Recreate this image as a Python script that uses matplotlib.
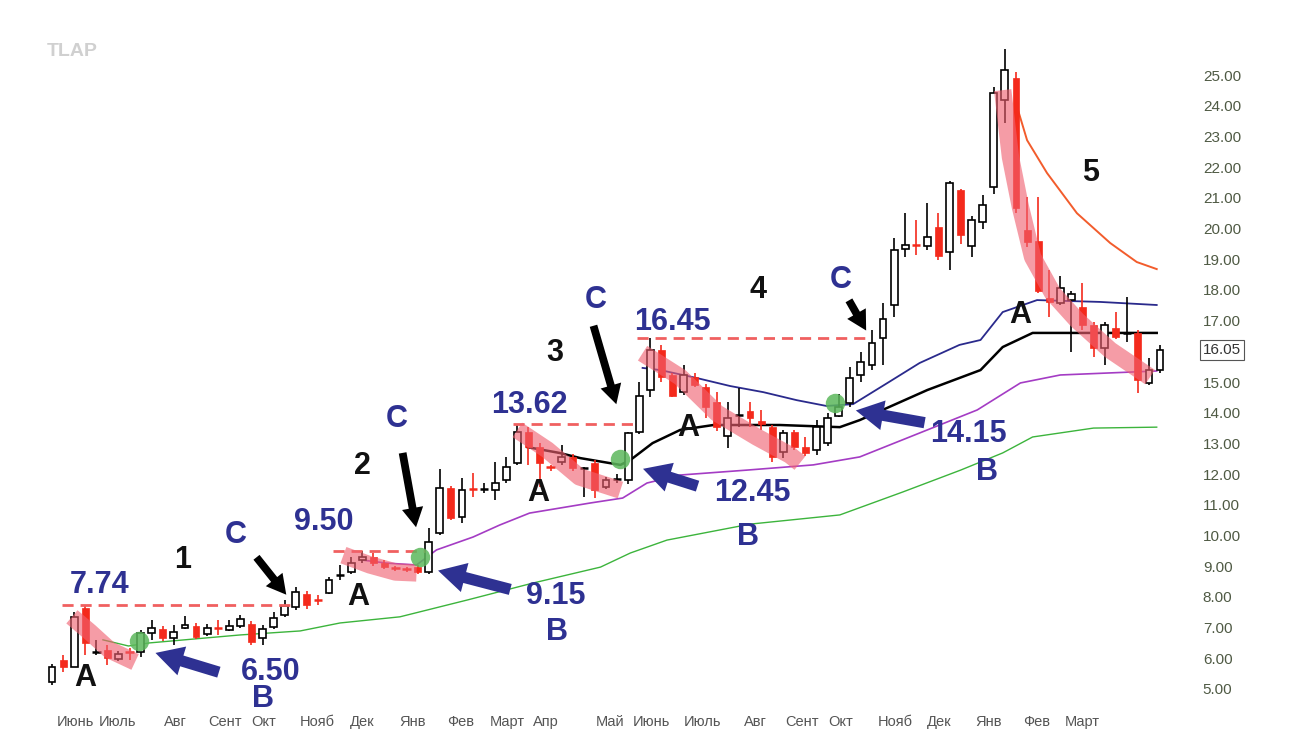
import matplotlib
matplotlib.use('Agg')
import matplotlib.pyplot as plt
from matplotlib.patches import FancyArrowPatch
import numpy as np

plt.rcParams['font.family'] = ['Liberation Sans', 'DejaVu Sans']

# weekly candles (open, high, low, close)
opens = [5.23, 5.94, 5.72, 7.64, 6.22, 6.27, 5.98, 6.20, 6.20, 6.82,
         6.95, 6.66, 6.99, 7.05, 6.79, 7.00, 6.92, 7.05, 7.12, 6.66,
         7.02, 7.41, 7.67, 8.09, 7.90, 8.13, 8.72, 8.81, 9.20, 9.30,
         9.10, 8.93, 8.92, 8.97, 8.81, 10.08, 11.55, 10.60, 11.50, 11.52,
         11.48, 11.81, 12.36, 13.37, 12.88, 12.23, 12.39, 12.56, 12.20, 12.36,
         11.58, 11.85, 11.81, 13.37, 14.74, 16.04, 15.23, 14.67, 15.16, 14.84,
         14.35, 13.24, 13.94, 14.05, 13.72, 13.53, 12.72, 13.37, 12.88, 12.79,
         13.00, 13.90, 14.32, 15.23, 15.55, 16.43, 17.51, 19.33, 19.46, 19.43,
         20.05, 19.23, 21.25, 19.43, 20.21, 21.35, 24.19, 24.90, 19.95, 19.59,
         17.74, 17.57, 17.67, 17.44, 16.86, 16.11, 16.76, 16.60, 16.60, 14.97,
         15.39]
highs = [5.81, 6.11, 7.51, 7.74, 6.60, 6.43, 6.25, 6.33, 6.92, 7.25,
         7.05, 7.08, 7.38, 7.15, 7.10, 7.25, 7.25, 7.41, 7.20, 7.08,
         7.51, 7.90, 8.32, 8.20, 8.06, 8.65, 9.04, 9.30, 9.50, 9.42,
         9.20, 9.00, 8.97, 9.05, 10.24, 12.17, 11.60, 11.87, 12.04, 11.70,
         12.39, 12.56, 13.62, 13.55, 13.00, 12.30, 12.95, 12.65, 12.22, 12.45,
         11.90, 12.00, 13.37, 15.00, 16.45, 16.20, 15.30, 15.55, 15.30, 14.95,
         14.67, 14.35, 14.80, 14.35, 14.08, 13.60, 13.45, 13.45, 13.20, 13.76,
         14.00, 14.60, 15.49, 15.98, 16.69, 17.57, 19.69, 20.50, 20.28, 20.83,
         20.50, 21.55, 21.30, 20.40, 21.09, 24.61, 25.85, 25.10, 21.03, 21.03,
         18.65, 18.45, 17.95, 18.22, 16.95, 16.95, 17.28, 17.77, 16.70, 15.78,
         16.20]
lows = [5.13, 5.55, 5.70, 6.11, 6.10, 5.78, 5.90, 5.94, 6.04, 6.60,
        6.55, 6.43, 6.95, 6.62, 6.72, 6.76, 6.88, 7.00, 6.43, 6.43,
        6.95, 7.35, 7.57, 7.60, 7.74, 8.10, 8.55, 8.75, 9.10, 9.00,
        8.90, 8.85, 8.80, 8.75, 8.75, 10.00, 10.50, 10.41, 11.25, 11.40,
        11.16, 11.70, 12.30, 12.30, 11.58, 12.10, 12.30, 12.10, 11.25, 11.22,
        11.50, 11.70, 11.68, 13.30, 14.50, 15.00, 14.50, 14.57, 14.85, 13.83,
        13.40, 12.85, 13.53, 13.53, 13.44, 12.40, 12.52, 12.80, 12.60, 12.62,
        12.90, 13.85, 14.20, 15.00, 15.39, 15.55, 17.12, 19.07, 19.14, 19.30,
        18.97, 18.65, 19.50, 19.07, 20.00, 21.12, 23.44, 20.50, 19.40, 17.90,
        17.12, 17.50, 15.98, 16.70, 15.83, 15.55, 16.40, 16.30, 14.64, 14.90,
        15.30]
closes = [5.72, 5.72, 7.35, 6.50, 6.25, 6.01, 6.14, 6.15, 6.82, 6.99,
          6.66, 6.86, 7.08, 6.69, 6.99, 6.97, 7.05, 7.28, 6.53, 6.95,
          7.31, 7.70, 8.16, 7.74, 7.85, 8.55, 8.78, 9.10, 9.30, 9.10,
          8.97, 8.90, 8.88, 8.81, 9.79, 11.55, 10.57, 11.48, 11.45, 11.56,
          11.71, 12.23, 13.37, 12.88, 12.36, 12.17, 12.56, 12.20, 12.22, 11.48,
          11.81, 11.87, 13.34, 14.54, 16.04, 15.16, 14.54, 15.23, 14.90, 14.20,
          13.53, 13.82, 13.96, 13.83, 13.62, 12.56, 13.34, 12.88, 12.69, 13.53,
          13.83, 14.20, 15.13, 15.65, 16.27, 17.05, 19.30, 19.46, 19.40, 19.72,
          19.10, 21.48, 19.79, 20.28, 20.77, 24.41, 25.16, 20.67, 19.56, 17.96,
          17.60, 18.06, 17.87, 16.86, 16.11, 16.86, 16.47, 16.65, 15.07, 15.39,
          16.05]

# indicator lines, sampled at (week index, price)
green_x = [4.6, 6.9, 8.8, 17.0, 22.4, 26.0, 31.4, 37.5, 43.4, 49.5, 52.2, 55.5, 63.0, 71.1, 76.8, 82.0, 85.8, 88.5, 94.0, 99.7]
green_y = [6.60, 6.40, 6.50, 6.76, 6.89, 7.15, 7.35, 7.90, 8.45, 8.97, 9.43, 9.85, 10.37, 10.67, 11.42, 12.13, 12.69, 13.21, 13.50, 13.53]
purple_x = [28.0, 30.2, 32.9, 34.7, 38.0, 40.4, 43.1, 48.6, 51.5, 53.7, 56.7, 62.7, 68.7, 72.9, 79.0, 83.5, 87.4, 91.0, 99.7]
purple_y = [9.20, 9.10, 9.04, 9.53, 9.95, 10.34, 10.73, 11.06, 11.22, 11.71, 11.97, 12.13, 12.30, 12.56, 13.44, 14.09, 14.97, 15.23, 15.36]
black_x = [42.9, 45.8, 47.7, 51.3, 52.2, 54.2, 56.7, 59.7, 65.7, 71.1, 72.9, 79.0, 83.8, 85.8, 88.5, 99.7]
black_y = [12.88, 12.69, 12.52, 12.30, 12.46, 13.01, 13.44, 13.60, 13.60, 13.53, 13.76, 14.74, 15.39, 16.14, 16.60, 16.60]
navy_x = [53.3, 54.9, 58.2, 61.2, 64.2, 67.2, 69.9, 72.3, 75.4, 78.3, 81.9, 83.8, 85.8, 88.9, 94.6, 99.7]
navy_y = [15.46, 15.39, 15.13, 14.87, 14.67, 14.41, 14.22, 14.28, 14.97, 15.62, 16.21, 16.37, 17.28, 17.67, 17.61, 17.51]
orange_x = [86.9, 87.1, 88.0, 89.8, 92.5, 95.5, 97.9, 99.7]
orange_y = [24.40, 23.96, 22.88, 21.81, 20.50, 19.53, 18.91, 18.68]

# pink highlight strokes over the pullbacks
pink_strokes = [
    ([1.8, 3.4, 5.2, 7.5], [7.35, 6.86, 6.27, 5.88]),
    ([26.3, 28.7, 31.0, 32.9], [9.36, 9.04, 8.81, 8.78]),
    ([42.0, 44.7, 47.6, 51.3], [13.44, 12.79, 11.91, 11.48]),
    ([53.3, 56.7, 60.0, 63.6, 66.6, 67.5], [15.94, 15.16, 13.99, 13.21, 12.62, 12.36]),
    ([85.8, 86.5, 87.4, 88.5, 90.3, 92.5, 95.5, 99.1], [24.51, 22.33, 20.70, 19.07, 17.90, 17.02, 16.04, 15.16]),
]
circle_x = [7.85, 33.2, 51.3, 70.7]
circle_y = [6.56, 9.30, 12.49, 14.32]

# breakout levels: price, start week, end week
levels = [7.74, 9.50, 13.62, 16.45]
level_start = [0.9, 25.4, 41.6, 52.8]
level_end = [21.5, 33.7, 52.4, 73.8]

month_pos = [2.1, 5.9, 11.1, 15.6, 19.1, 23.9, 28.0, 32.5, 36.9, 41.1, 44.6,
             50.4, 54.1, 58.7, 63.5, 67.7, 71.2, 76.1, 80.1, 84.5, 88.9, 93.0]
month_lbl = ['Июнь', 'Июль', 'Авг', 'Сент', 'Окт', 'Нояб', 'Дек', 'Янв', 'Фев', 'Март', 'Апр',
             'Май', 'Июнь', 'Июль', 'Авг', 'Сент', 'Окт', 'Нояб', 'Дек', 'Янв', 'Фев', 'Март']
last_price = 16.05

NAVY = '#2e3192'
RED = '#f42a1c'

fig = plt.figure(figsize=(12.9, 7.45), dpi=100)
ax = fig.add_axes([48 / 1290, 45 / 745, 1127 / 1290, 670 / 745])
ax.set_xlim(-0.36, 101.35)
ax.set_ylim(4.64, 26.47)

# moving averages (behind candles)
ax.plot(green_x, green_y, color='#3cb43c', lw=1.0, zorder=2)
ax.plot(purple_x, purple_y, color='#a43cc4', lw=1.2, zorder=2)
ax.plot(black_x, black_y, color='black', lw=1.8, zorder=2)
ax.plot(navy_x, navy_y, color='#2a2a8c', lw=1.3, zorder=2)
ax.plot(orange_x, orange_y, color='#f25c2c', lw=1.4, zorder=2)

# candles
o = np.array(opens); h = np.array(highs); l = np.array(lows); c = np.array(closes)
idx = np.arange(len(o))
up = c >= o
doji = np.abs(c - o) < 0.08
col = np.where(up, 'black', RED)
ax.vlines(idx, l, h, colors=col, lw=1.2, zorder=3)
body = ~doji
ax.bar(idx[body & up], (c - o)[body & up], bottom=o[body & up], width=0.62,
       color='white', edgecolor='black', linewidth=1.2, zorder=4)
ax.bar(idx[body & ~up], (o - c)[body & ~up], bottom=c[body & ~up], width=0.62,
       color=RED, edgecolor=RED, linewidth=0.5, zorder=4)
ax.hlines(o[doji], idx[doji] - 0.38, idx[doji] + 0.38, colors=col[doji], lw=1.8, zorder=4)

# breakout levels
for lv, x0, x1 in zip(levels, level_start, level_end):
    ax.hlines(lv, x0, x1, colors='#f06060', lw=2.0, linestyles=(0, (4, 2.5)), zorder=5)

# pullback highlights
for xs, ys in pink_strokes:
    ax.plot(xs, ys, color='#f06070', alpha=0.62, lw=12.5, solid_capstyle='butt', zorder=6)

ax.plot(circle_x, circle_y, 'o', ms=14, color='#5cb85c', alpha=0.85, mec='none', zorder=7)

# annotations
tstyle = dict(fontsize=22, fontweight='bold', ha='center', va='center', zorder=9)
blue_txt = [('7.74', 4.33, 8.39), ('9.50', 24.5, 10.44), ('13.62', 43.1, 14.25), ('16.45', 56.0, 16.95),
            ('6.50', 19.7, 5.55), ('9.15', 45.5, 8.03), ('12.45', 63.2, 11.38), ('14.15', 82.7, 13.31),
            ('B', 19.0, 4.66), ('B', 45.6, 6.86), ('B', 62.8, 9.95), ('B', 84.4, 12.07),
            ('C', 16.6, 10.02), ('C', 31.1, 13.79), ('C', 49.1, 17.67), ('C', 71.2, 18.32)]
for s, x, y in blue_txt:
    ax.text(x, y, s, color=NAVY, **tstyle)
black_txt = [('A', 3.0, 5.36), ('A', 27.6, 8.0), ('A', 43.9, 11.38), ('A', 57.4, 13.5), ('A', 87.4, 17.18),
             ('1', 11.8, 9.2), ('2', 28.0, 12.26), ('3', 45.4, 15.94), ('4', 63.7, 18.0), ('5', 93.7, 21.81)]
for s, x, y in black_txt:
    ax.text(x, y, s, color='#111111', **tstyle)

c_arrows = [((18.3, 9.36), (21.3, 8.0)), ((31.6, 12.78), (32.9, 10.18)),
            ((48.8, 16.92), (51.0, 14.19)), ((71.8, 17.74), (73.6, 16.6))]
for tail, head in c_arrows:
    ax.add_patch(FancyArrowPatch(tail, head, arrowstyle='simple,head_width=1.1,head_length=1.0,tail_width=0.4',
                                 mutation_scale=14, color='black', lw=0, zorder=9))
b_arrows = [((15.3, 5.52), (9.1, 6.2)), ((41.6, 8.22), (34.6, 8.88)),
            ((58.5, 11.58), (53.1, 12.2)), ((79.0, 13.66), (72.3, 14.09))]
for tail, head in b_arrows:
    ax.add_patch(FancyArrowPatch(tail, head, arrowstyle='simple,head_width=1.2,head_length=1.1,tail_width=0.45',
                                 mutation_scale=18, color=NAVY, lw=0, zorder=9))

# axes styling
for sp in ax.spines.values():
    sp.set_visible(False)
ax.yaxis.tick_right()
yt = [v for v in range(5, 26) if v != 16]
ax.set_yticks(yt)
ax.set_yticklabels(['%.2f' % v for v in yt])
ax.tick_params(axis='y', length=0, pad=20, labelsize=11, labelcolor='#4f5a44')
ax.text(1.0417, last_price, '%.2f' % last_price, transform=ax.get_yaxis_transform(),
        ha='center', va='center', fontsize=11, color='#333333',
        bbox=dict(boxstyle='square,pad=0.2', fc='white', ec='#555555', lw=0.8))
ax.set_xticks(month_pos)
ax.set_xticklabels(month_lbl)
ax.tick_params(axis='x', length=0, pad=11, labelsize=10.5, labelcolor='#555555')

fig.text(72 / 1290, 1 - 52 / 745, 'TLAP', fontsize=14, fontweight='bold', color='#d0d0d0',
         ha='center', va='center')

fig.savefig('out.png', dpi=100)
